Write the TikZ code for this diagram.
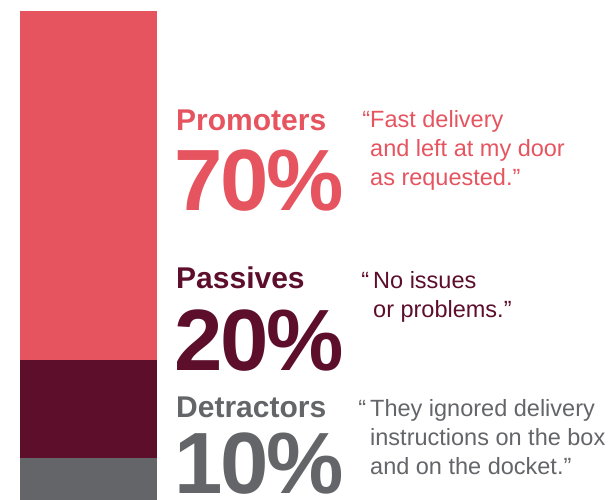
\documentclass[tikz,border=0pt]{standalone}
\usepackage{fontspec}
\setmainfont{Liberation Sans}
\definecolor{promred}{HTML}{E5545F}
\definecolor{passdark}{HTML}{5C0E2B}
\definecolor{detgray}{HTML}{646569}
\begin{document}
\begin{tikzpicture}[x=1pt, y=-1pt,
    grp/.style={anchor=base west, inner sep=0pt, font=\fontsize{30}{30}\selectfont\bfseries},
    pct/.style={anchor=base west, inner sep=0pt, font=\fontsize{87}{87}\selectfont\bfseries\addfontfeature{LetterSpace=-2.5}},
    quot/.style={anchor=base west, inner sep=0pt, align=left, font=\fontsize{23.5}{29}\selectfont}]

  \useasboundingbox (0,0) rectangle (610,500);

  % stacked bar
  \begin{scope}
    \fill[promred] (20,11) rectangle (157,360);
    \fill[passdark] (20,360) rectangle (157,458);
    \fill[detgray] (20,458) rectangle (157,500);
  \end{scope}

  % promoters (quote node sits on its last line)
  \node[grp, text=promred] (g1) at (176,131) {Promoters};
  \node[pct, text=promred] (n1) at (174,210) {70\%};
  \node[quot, text=promred] (q1) at (370,185) {\llap{“}Fast delivery\\and left at my door\\as requested.”};

  % passives
  \node[grp, text=passdark] (g2) at (176,288) {Passives};
  \node[pct, text=passdark] (n2) at (174,370) {20\%};
  \node[quot, text=passdark] (q2) at (373,317) {\llap{“\,}No issues\\or problems.”};

  % detractors
  \node[grp, text=detgray] (g3) at (176,417) {Detractors};
  \node[pct, text=detgray] (n3) at (174,493) {10\%};
  \node[quot, text=detgray] (q3) at (370,474) {\llap{“\,}They ignored delivery\\instructions on the box\\and on the docket.”};

\end{tikzpicture}
\end{document}
